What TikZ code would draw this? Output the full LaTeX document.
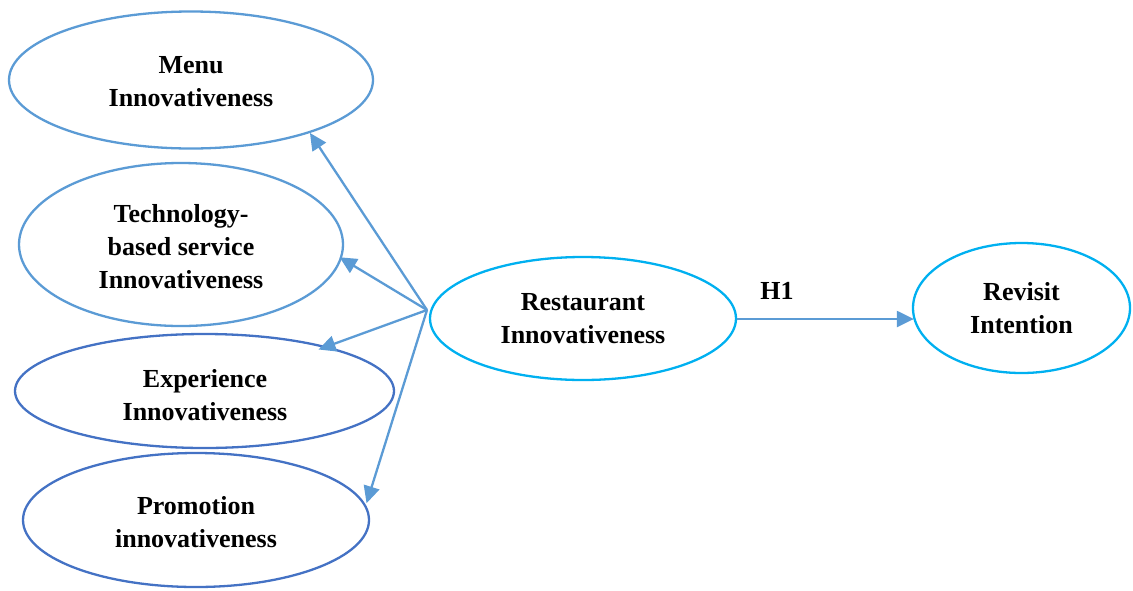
\documentclass[tikz,border=0pt]{standalone}
\usepackage{fontspec}
\setmainfont{Liberation Serif}
\usetikzlibrary{shapes.geometric,arrows.meta}
\definecolor{lblue}{HTML}{5B9BD5}
\definecolor{dblue}{HTML}{4472C4}
\definecolor{cblue}{HTML}{00B0F0}
\begin{document}
\begin{tikzpicture}[x=1pt,y=-1pt,
  oval/.style={ellipse,draw=#1,line width=2.3pt,inner sep=0pt},
  lbl/.style={inner sep=0pt,align=center,font=\fontsize{26}{33}\selectfont\bfseries},
  conn/.style={draw=lblue,line width=2.3pt,-{Triangle[length=17pt,width=16pt]},fill=lblue}
]
\useasboundingbox (0,0) rectangle (1133,590);
\node[oval=lblue,minimum width=364pt,minimum height=137pt] (menu) at (191,80) {};
\node[oval=lblue,minimum width=324pt,minimum height=163pt] (tech) at (181,244.5) {};
\node[oval=dblue,minimum width=379pt,minimum height=114pt] (exp) at (204.5,391) {};
\node[oval=dblue,minimum width=346pt,minimum height=134pt] (promo) at (196,520) {};
\node[oval=cblue,minimum width=306pt,minimum height=123pt] (rest) at (583,318.5) {};
\node[oval=cblue,minimum width=217pt,minimum height=130pt] (rev) at (1021.5,308) {};
\node[lbl] (menu-t) at (191,82) {Menu\\Innovativeness};
\node[lbl] (tech-t) at (181,246.5) {Technology-\\based service\\Innovativeness};
\node[lbl] (exp-t) at (205,395.5) {Experience\\Innovativeness};
\node[lbl] (promo-t) at (196,522) {Promotion\\innovativeness};
\node[lbl] (rest-t) at (583,318.5) {Restaurant\\Innovativeness};
\node[lbl] (rev-t) at (1021.5,308) {Revisit\\Intention};
\coordinate (hub) at (427,310);
\draw[conn,shorten >=0pt] (hub) -- (menu.-24.6);
\draw[conn,shorten >=-2.5pt] (hub) -- (tech.-5.3);
\draw[conn,shorten >=-9pt] (hub) -- (exp.20.3);
\draw[conn,shorten >=2pt] (hub) -- (promo.5.5);
\draw[conn,shorten >=-2pt] (rest.east |- 0,319) -- (rev.west |- 0,319);
\node[lbl] (h1) at (777,291) {H1};
\end{tikzpicture}
\end{document}
